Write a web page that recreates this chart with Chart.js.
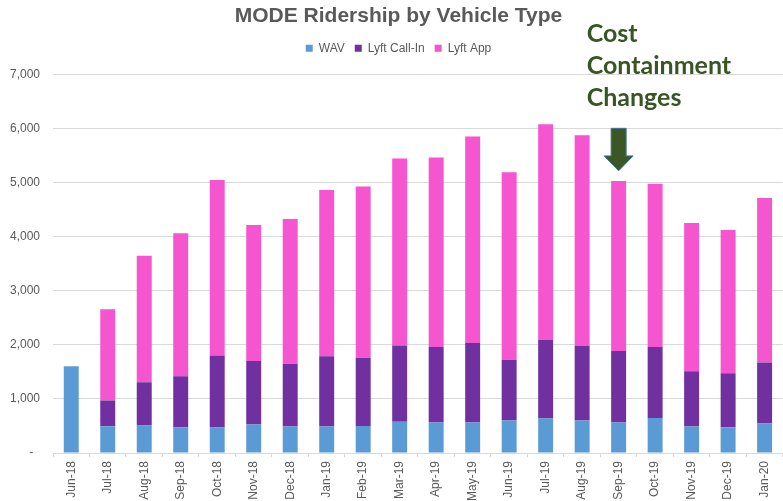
<!DOCTYPE html>
<html>
<head>
<meta charset="utf-8">
<title>MODE Ridership by Vehicle Type</title>
<script src="https://cdn.jsdelivr.net/npm/chart.js@4"></script>
<style>
    html, body { margin: 0; padding: 0; background: #fff; }
    .chart-wrap { width: 783px; height: 501px; position: relative; }
</style>
</head>
<body>
<div class="chart-wrap">
    <canvas id="ridershipChart"></canvas>
</div>
<script>
// months on the x axis
const months = ['Jun-18', 'Jul-18', 'Aug-18', 'Sep-18', 'Oct-18', 'Nov-18', 'Dec-18',
    'Jan-19', 'Feb-19', 'Mar-19', 'Apr-19', 'May-19', 'Jun-19', 'Jul-19', 'Aug-19',
    'Sep-19', 'Oct-19', 'Nov-19', 'Dec-19', 'Jan-20'];

// rides per month
const wavRides = [1605, 494, 506, 475, 469, 525, 488, 488, 500, 577,
    562, 562, 599, 636, 599, 562, 648, 488, 475, 543];
const callInRides = [0, 475, 803, 945, 1333, 1173, 1160, 1302, 1259, 1411,
    1395, 1469, 1123, 1450, 1376, 1321, 1309, 1024, 1000, 1130];
const appRides = [0, 1687, 2335, 2641, 3241, 2517, 2677, 3069, 3167, 3454,
    3503, 3816, 3468, 3988, 3896, 3142, 3018, 2740, 2648, 3039];

// y axis ticks
const yTicks = [0, 1000, 2000, 3000, 4000, 5000, 6000, 7000];

// annotation
const noteLines = ['Cost', 'Containment', 'Changes'];
const noteMonth = 'Sep-19';

document.addEventListener('DOMContentLoaded', function() {
    initRidershipChart();
});

/**
 * Push the plot area down a little below the legend
 */
const legendSpacer = {
    id: 'legendSpacer',
    beforeInit(chart) {
        const originalFit = chart.legend.fit;
        chart.legend.fit = function fit() {
            originalFit.bind(chart.legend)();
            this.height += 10;
        };
    },
    // let the y labels use the left padding too (labels are clipped to the axis box)
    afterLayout(chart) {
        const y = chart.scales.y;
        y.left = 0;
        y.width = y.right;
    }
};

/**
 * Cost containment note + down arrow
 */
const costNote = {
    id: 'costNote',
    afterDraw(chart) {
        const ctx = chart.ctx;
        const x = chart.scales.x;
        const y = chart.scales.y;
        const cx = x.getPixelForValue(months.indexOf(noteMonth));

        ctx.save();
        ctx.fillStyle = '#375623';
        ctx.font = 'bold 25px Lato, "Open Sans", sans-serif';
        ctx.textBaseline = 'alphabetic';
        ctx.textAlign = 'left';
        noteLines.forEach((line, i) => {
            ctx.fillText(line, cx - 32, 42 + i * 32);
        });

        // block arrow pointing at the bar
        const top = y.getPixelForValue(6000);
        const neck = y.getPixelForValue(5490);
        const tip = y.getPixelForValue(5215);
        ctx.beginPath();
        ctx.moveTo(cx - 7.5, top);
        ctx.lineTo(cx + 7.5, top);
        ctx.lineTo(cx + 7.5, neck);
        ctx.lineTo(cx + 14.5, neck);
        ctx.lineTo(cx, tip);
        ctx.lineTo(cx - 14.5, neck);
        ctx.lineTo(cx - 7.5, neck);
        ctx.closePath();
        ctx.fillStyle = '#3b5723';
        ctx.fill();
        ctx.strokeStyle = '#41719c';
        ctx.lineWidth = 1;
        ctx.stroke();
        ctx.restore();
    }
};

/**
 * Initialize Ridership Chart
 */
function initRidershipChart() {
    const ctx = document.getElementById('ridershipChart');
    if (!ctx) return;

    const barOpts = {
        borderWidth: 0,
        barPercentage: 0.41,
        categoryPercentage: 1
    };

    new Chart(ctx.getContext('2d'), {
        type: 'bar',
        data: {
            labels: months,
            datasets: [
                Object.assign({ label: 'WAV', data: wavRides, backgroundColor: '#5b9bd5' }, barOpts),
                Object.assign({ label: 'Lyft Call-In', data: callInRides, backgroundColor: '#7030a0' }, barOpts),
                Object.assign({ label: 'Lyft App', data: appRides, backgroundColor: '#f555cf' }, barOpts)
            ]
        },
        options: {
            responsive: true,
            maintainAspectRatio: false,
            animation: false,
            layout: {
                padding: { left: 14, right: 0, top: 0, bottom: 0 }
            },
            plugins: {
                title: {
                    display: true,
                    text: 'MODE Ridership by Vehicle Type',
                    color: '#595959',
                    font: { family: '"Liberation Sans", Arial, sans-serif', size: 21, weight: 'bold', lineHeight: 1.2 },
                    padding: { top: 4, bottom: 3 }
                },
                legend: {
                    position: 'top',
                    labels: {
                        color: '#595959',
                        boxWidth: 7,
                        boxHeight: 7,
                        padding: 10,
                        font: { family: '"Liberation Sans", Arial, sans-serif', size: 12 }
                    }
                },
                tooltip: { enabled: false }
            },
            scales: {
                x: {
                    stacked: true,
                    afterFit: function(scale) { scale.height = 48; },
                    grid: {
                        display: true,
                        drawOnChartArea: false,
                        drawTicks: true,
                        tickLength: 4,
                        offset: true,
                        color: '#d9d9d9'
                    },
                    border: { display: true, color: '#d9d9d9' },
                    ticks: {
                        color: '#595959',
                        minRotation: 90,
                        maxRotation: 90,
                        padding: 4,
                        autoSkip: false,
                        font: { family: '"Liberation Sans", Arial, sans-serif', size: 12 }
                    }
                },
                y: {
                    stacked: true,
                    min: yTicks[0],
                    max: yTicks[yTicks.length - 1],
                    afterFit: function(scale) { scale.width = 39; },
                    afterBuildTicks: function(scale) {
                        scale.ticks = yTicks.map(v => ({ value: v }));
                    },
                    grid: {
                        color: '#d9d9d9',
                        drawTicks: false
                    },
                    border: { display: false },
                    ticks: {
                        color: '#595959',
                        padding: 13,
                        font: { family: '"Liberation Sans", Arial, sans-serif', size: 12 },
                        callback: function(value) {
                            return value === 0 ? '-  ' : value.toLocaleString('en-US');
                        }
                    }
                }
            }
        },
        plugins: [legendSpacer, costNote]
    });
}
</script>
</body>
</html>
